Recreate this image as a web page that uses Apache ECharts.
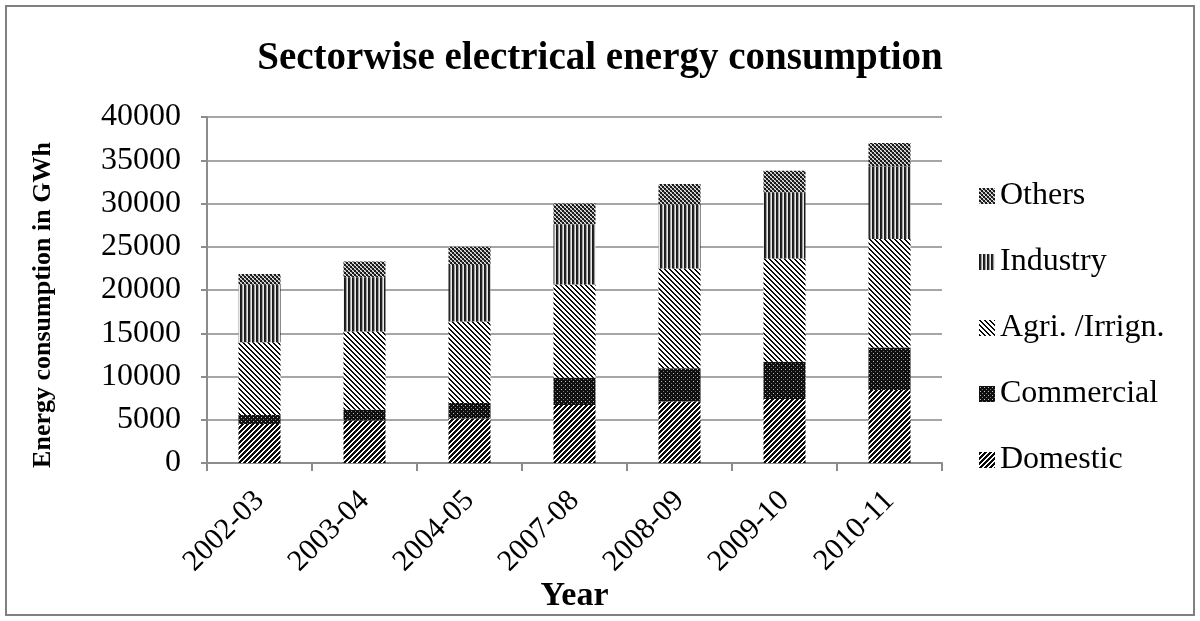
<!DOCTYPE html>
<html>
<head>
<meta charset="utf-8">
<script src="https://cdn.jsdelivr.net/npm/echarts@6/dist/echarts.min.js"></script>
<style>
html,body{margin:0;padding:0;background:#fff;}
#chart{width:1200px;height:621px;}
</style>
</head>
<body>
<div id="chart"></div>
<script>
var categories = ['2002-03','2003-04','2004-05','2007-08','2008-09','2009-10','2010-11'];
var domestic   = [4500, 4900, 5150, 6700, 7100, 7400, 8450];
var commercial = [1050, 1250, 1800, 3150, 3850, 4300, 4900];
var agri       = [8400, 9050, 9400, 10800, 11550, 11950, 12550];
var industry   = [6650, 6250, 6550, 6950, 7350, 7650, 8400];
var others     = [1250, 1850, 2100, 2400, 2400, 2500, 2700];
var legendOrder = ['Others','Industry','Agri. /Irrign.','Commercial','Domestic'];

function makePattern(size, fn) {
  var c = document.createElement('canvas');
  c.width = size; c.height = size;
  var ctx = c.getContext('2d');
  var img = ctx.createImageData(size, size);
  for (var y = 0; y < size; y++) {
    for (var x = 0; x < size; x++) {
      var v = fn(x, y);
      var i = (y * size + x) * 4;
      img.data[i] = v; img.data[i+1] = v; img.data[i+2] = v; img.data[i+3] = 255;
    }
  }
  ctx.putImageData(img, 0, 0);
  return {image: c, repeat: 'repeat'};
}
// Domestic: "///"
var pDomestic = makePattern(5, function(x, y){ return ((x + y) % 5) < 3 ? 10 : 255; });
// Commercial: black with grey dots
var pCommercial = makePattern(4, function(x, y){ return (x % 4 === 1 && y % 4 === 1) ? 190 : ((x%4===3 && y%4===3) ? 120 : 15); });
// Agri: "\\\"
var pAgri = makePattern(5, function(x, y){ return (((x - y) % 5 + 5) % 5) < 2 ? 10 : 255; });
// Industry: vertical lines
var pIndustry = makePattern(4, function(x, y){ return [25, 40, 160, 235][x % 4]; });
// Others: checker
var pOthers = makePattern(4, function(x, y){
  var b = (Math.floor(x/2) + Math.floor(y/2)) % 2 === 0;
  if (b) return 25;
  return ((x + y) % 2 === 0) ? 235 : 140;
});

var serif = '"Liberation Serif", "Times New Roman", serif';

function mk(name, data, pat) {
  return {
    name: name, type: 'bar', stack: 'total', data: data,
    barWidth: '40%',
    itemStyle: {color: pat},
    emphasis: {disabled: true}
  };
}

var chart = echarts.init(document.getElementById('chart'), null, {renderer: 'canvas'});
chart.setOption({
  backgroundColor: '#fff',
  animation: false,
  title: {
    text: 'Sectorwise electrical energy consumption',
    left: 'center', top: 34,
    textStyle: {fontFamily: serif, fontWeight: 'bold', fontSize: 39, color: '#000'}
  },
  graphic: [{
    type: 'rect', shape: {x: 6, y: 6, width: 1188, height: 609},
    style: {fill: 'none', stroke: '#808080', lineWidth: 2}, silent: true
  }],
  legend: {
    orient: 'vertical', left: 974, top: 175,
    data: legendOrder,
    icon: 'rect', itemWidth: 16, itemHeight: 16, itemGap: 34,
    textStyle: {fontFamily: serif, fontSize: 32, color: '#000'}
  },
  grid: {left: 207, right: 258, top: 117, bottom: 158, containLabel: false, outerBoundsMode: 'none'},
  xAxis: {
    type: 'category', data: categories,
    name: 'Year', nameLocation: 'middle', nameGap: 116, nameMoveOverlap: false,
    nameTextStyle: {fontFamily: serif, fontWeight: 'bold', fontSize: 34, color: '#000'},
    axisLine: {lineStyle: {color: '#8c8c8c', width: 2}},
    axisTick: {show: true, length: 8, lineStyle: {color: '#8c8c8c', width: 2}},
    axisLabel: {rotate: 45, margin: 33, fontFamily: serif, fontSize: 30, color: '#000', interval: 0}
  },
  yAxis: {
    type: 'value', min: 0, max: 40000, interval: 5000,
    name: 'Energy consumption in GWh', nameLocation: 'middle', nameGap: 151, nameMoveOverlap: false,
    nameTextStyle: {fontFamily: serif, fontWeight: 'bold', fontSize: 26, color: '#000', padding: [0, 30, 0, 0]},
    axisLine: {show: true, lineStyle: {color: '#8c8c8c', width: 2}},
    axisTick: {show: true, length: 6, lineStyle: {color: '#8c8c8c', width: 2}},
    splitLine: {lineStyle: {color: '#a6a6a6', width: 2}},
    axisLabel: {margin: 26, fontFamily: serif, fontSize: 32, color: '#000', formatter: function(v){ return String(v); }}
  },
  series: [
    mk('Domestic', domestic, pDomestic),
    mk('Commercial', commercial, pCommercial),
    mk('Agri. /Irrign.', agri, pAgri),
    mk('Industry', industry, pIndustry),
    mk('Others', others, pOthers)
  ]
});
</script>
</body>
</html>
